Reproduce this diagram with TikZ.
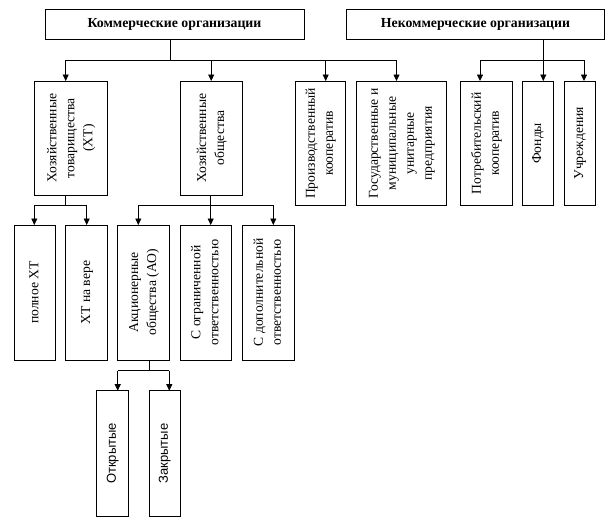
\documentclass[tikz,border=0pt]{standalone}
\usepackage{fontspec}
\setmainfont{Liberation Serif}
\setsansfont{Liberation Sans}
\usetikzlibrary{arrows.meta}
\tikzset{
  box/.style={draw, line width=0.8pt, inner sep=0pt, outer sep=0pt, font=\fontsize{13.6}{18}\selectfont},
  hdr/.style={box, font=\fontsize{13.8}{16}\selectfont\bfseries},
  sbox/.style={box, font=\sffamily\fontsize{13}{17}\selectfont},
  conn/.style={line width=0.8pt},
  arr/.style={conn, -{Triangle[length=6.5pt,width=6pt]}},
}
\newcommand\mkbox[7][box]{\node[#1, minimum width={#5pt-#3pt}, minimum height={#6pt-#4pt}] (#2) at ({(#3+#5)/2},{(#4+#6)/2}) {#7};}
\newcommand\rtxt[1]{\rotatebox{90}{\begin{tabular}{@{}c@{}}#1\end{tabular}}}
\begin{document}
\begin{tikzpicture}[x=1pt,y=-1pt]
\fill[white] (0,0) rectangle (614,520);
\useasboundingbox (0,0) rectangle (614,520);
% headers
\mkbox[hdr]{com}{45}{9}{304}{39.3}{Коммерческие организации}
\mkbox[hdr]{non}{346.7}{9}{604.3}{39.3}{Некоммерческие организации}
% row 2
\mkbox{xt}{34.3}{81}{107.3}{195}{\rtxt{Хозяйственные\\товарищества\\(ХТ)}}
\mkbox{xo}{180.7}{81}{242.3}{195}{\rtxt{Хозяйственные\\общества}}
\mkbox{proizv}{295}{81}{345.7}{205.7}{\rtxt{Производственный\\кооператив}}
\mkbox{gos}{356.7}{81}{446}{205.7}{\rtxt{Государственные и\\муниципальные\\унитарные\\предприятия}}
\mkbox{potreb}{460.7}{81}{512}{205.7}{\rtxt{Потребительский\\кооператив}}
\mkbox{fond}{522}{81}{553}{205.7}{\rtxt{Фонды}}
\mkbox{uchr}{564}{81}{595}{205.7}{\rtxt{Учреждения}}
% row 3
\mkbox{poln}{14}{225}{55.7}{360}{\rtxt{полное ХТ}}
\mkbox{vera}{65.7}{225}{107.3}{360}{\rtxt{ХТ на вере}}
\mkbox{akc}{117.7}{225}{169.3}{360}{\rtxt{Акционерные\\общества (АО)}}
\mkbox{ogr}{180}{225}{231.7}{360}{\rtxt{С ограниченной\\ответственностью}}
\mkbox{dop}{242.3}{225}{294}{360}{\rtxt{С дополнительной\\ответственностью}}
% row 4
\mkbox[sbox]{otkr}{96.7}{390.7}{128.3}{516}{\rtxt{Открытые}}
\mkbox[sbox]{zakr}{149}{390.7}{180}{516.7}{\rtxt{Закрытые}}
% commercial connectors
\coordinate (cj) at (170,60.3);
\coordinate (c1) at (65.7,60.3);
\coordinate (c2) at (211.2,60.3);
\coordinate (c3) at (325.7,60.3);
\coordinate (c4) at (396.5,60.3);
\draw[conn] (com.south -| cj) -- (cj);
\draw[conn] (c1) -- (c4);
\draw[arr] (c1) -- (c1 |- xt.north);
\draw[arr] (c2) -- (c2 |- xo.north);
\draw[arr] (c3) -- (c3 |- proizv.north);
\draw[arr] (c4) -- (c4 |- gos.north);
% non-commercial connectors
\coordinate (n1) at (480,60.3);
\coordinate (n2) at (543.3,60.3);
\coordinate (n3) at (584,60.3);
\draw[conn] (non.south -| n2) -- (n2);
\draw[conn] (n1) -- (n3);
\draw[arr] (n1) -- (n1 |- potreb.north);
\draw[arr] (n2) -- (n2 |- fond.north);
\draw[arr] (n3) -- (n3 |- uchr.north);
% XT connectors
\coordinate (tj) at (65.7,205);
\coordinate (t1) at (34.3,205);
\coordinate (t2) at (86.7,205);
\draw[conn] (xt.south -| tj) -- (tj);
\draw[conn] (t1) -- (t2);
\draw[arr] (t1) -- (t1 |- poln.north);
\draw[arr] (t2) -- (t2 |- vera.north);
% XO connectors
\coordinate (o1) at (138.3,205);
\coordinate (o2) at (210.7,205);
\coordinate (o3) at (273.3,205);
\draw[conn] (xo.south -| o2) -- (o2);
\draw[conn] (o1) -- (o3);
\draw[arr] (o1) -- (o1 |- akc.north);
\draw[arr] (o2) -- (o2 |- ogr.north);
\draw[arr] (o3) -- (o3 |- dop.north);
% AO connectors
\coordinate (aj) at (149.3,370.7);
\coordinate (a1) at (117.7,370.7);
\coordinate (a2) at (169.3,370.7);
\draw[conn] (akc.south -| aj) -- (aj);
\draw[conn] (a1) -- (a2);
\draw[arr] (a1) -- (a1 |- otkr.north);
\draw[arr] (a2) -- (a2 |- zakr.north);
\end{tikzpicture}
\end{document}
